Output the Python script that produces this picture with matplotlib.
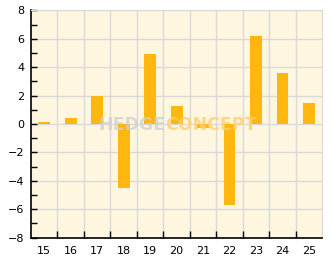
import numpy as np
import matplotlib.pyplot as plt
from matplotlib.ticker import MultipleLocator, FixedLocator

# data
days = ['15', '16', '17', '18', '19', '20', '21', '22', '23', '24', '25']
values = [0.12, 0.4, 2.0, -4.5, 4.9, 1.3, -0.3, -5.7, 6.2, 3.6, 1.5]

bar_color = '#FFB60F'
bg_color = '#FEF6DE'
grid_color = '#D9D9D9'

fig = plt.figure(figsize=(3.32, 2.69), dpi=100)
ax = fig.add_axes([0.0934, 0.117, 0.877, 0.844])
ax.set_facecolor(bg_color)

x = np.arange(len(days))
ax.bar(x, values, width=0.45, color=bar_color, zorder=3)

ax.set_xlim(-0.5, len(days) - 0.5)
ax.set_ylim(-8, 8)

# x: labels at the centres, ticks + grid at the category borders
ax.set_xticks(x)
ax.set_xticklabels(days)
ax.xaxis.set_minor_locator(FixedLocator(x[:-1] + 0.5))
ax.tick_params(axis='x', which='major', length=0, pad=6, labelsize=8)
ax.tick_params(axis='x', which='minor', direction='in', length=5, width=1)
ax.grid(True, axis='x', which='minor', color=grid_color, lw=1, zorder=0)

# y: major every 2, minor every 1
ax.yaxis.set_major_locator(MultipleLocator(2))
ax.yaxis.set_minor_locator(MultipleLocator(1))
ax.tick_params(axis='y', which='both', direction='in', length=4, width=1, labelsize=8, pad=5)
ax.set_yticklabels([f'{int(v)}'.replace('-', '\u2212') for v in ax.get_yticks()])
ax.grid(True, axis='y', which='major', color=grid_color, lw=1, zorder=0)

for s in ['top', 'right']:
    ax.spines[s].set_color(grid_color)
for s in ['left', 'bottom']:
    ax.spines[s].set_color('black')
    ax.spines[s].set_linewidth(1.2)

# watermark
wm = dict(transform=ax.transAxes, va='center', fontsize=12.5, fontweight='bold', zorder=5)
ax.text(0.462, 0.495, 'HEDGE', ha='right', color='#CFCFCF', alpha=0.75, **wm)
ax.text(0.462, 0.495, 'CONCEPT', ha='left', color='#FFD070', alpha=0.8, **wm)

fig.savefig('out.png', dpi=100)
